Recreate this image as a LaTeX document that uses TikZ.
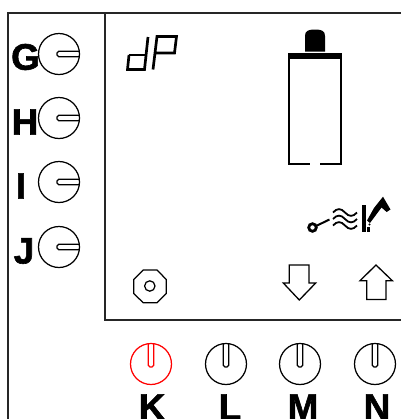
\documentclass[tikz,border=0pt]{standalone}
\usepackage{fontspec}
\setmainfont{Liberation Sans}
\newfontfamily\heavyfont[FakeBold=1.6]{Liberation Sans Bold}
\tikzset{
  frameline/.style={draw=black!85,line width=1.5pt,line cap=square},
  knob/.style={draw,line width=1.25pt},
  lbl/.style={font=\fontsize{37}{37}\selectfont\heavyfont,inner sep=0pt,anchor=center},
  seg/.style={draw,line width=2.7pt,line join=miter},
  arrowkey/.style={draw,line width=1.3pt,line join=miter},
}
\newcommand{\hknob}[2]{%
  \draw[knob] (#1,#2) circle (20.5);
  \draw[knob,rounded corners=1.8] (#1+20.5,#2-2.7) -- (#1-2,#2-2.7) -- (#1-2,#2+2.7) -- (#1+20.5,#2+2.7);
}
\newcommand{\vknob}[3]{%
  \draw[knob,#3] (#1,#2) circle (20.5);
  \draw[knob,#3,rounded corners=1.8] (#1-2.7,#2-20.5) -- (#1-2.7,#2+3) -- (#1+2.7,#2+3) -- (#1+2.7,#2-20.5);
}
\begin{document}
\begin{tikzpicture}[x=1bp,y=-1bp]
\useasboundingbox (0,0) rectangle (401,419);
% frame
\coordinate (tl) at (8,13); \coordinate (tr) at (401,13); \coordinate (bl) at (8,419);
\coordinate (itl) at (105,13); \coordinate (ibl) at (105,320); \coordinate (ibr) at (401,320);
\draw[frameline] (bl) -- (tl) -- (tr);
\draw[frameline] (itl) -- (ibl) -- (ibr);
% left knobs
\hknob{59}{54}
\hknob{59}{118}
\hknob{59}{182}
\hknob{59}{247}
\node[lbl] (G) at (25.5,57) {G};
\node[lbl] (H) at (25,122) {H};
\node[lbl] (I) at (21,186) {I};
\node[lbl] (J) at (24,251) {J};
% bottom knobs
\vknob{151}{364}{red}
\vknob{226}{364}{black}
\vknob{300}{364}{black}
\vknob{375}{364}{black}
\node[lbl] (K) at (152,407) {K};
\node[lbl] (L) at (230,407) {L};
\node[lbl] (M) at (303,407) {M};
\node[lbl] (N) at (377,407) {N};
% dP
\draw[seg] (129,55) -- (127.5,69.5) -- (144.5,69.5) -- (148,37);
\draw[seg] (129,55) -- (146,55);
\draw[seg] (153,69.5) -- (157,36.5) -- (176.5,36.5) -- (174.5,53) -- (155,53);
% bottle
\fill (305,51.7) -- (305,36) .. controls (305,31) and (308,29.5) .. (315,29.5) .. controls (322,29.5) and (325,31) .. (325,36) -- (325,51.7) -- cycle;
\fill (288,53) rectangle (342,59);
\draw[line width=1.9pt] (289.3,58) -- (289.3,163.7) -- (310,163.7);
\draw[line width=1.9pt] (340.7,58) -- (340.7,163.7) -- (320,163.7);
% symbols
\draw[line width=2.8pt] (312.5,227.5) circle (3.8);
\draw[line width=2pt] (316,226) -- (329.5,219.5);
\foreach \yy in {0,6.5,13}{
  \draw[line width=1.8pt] (333,212.5+\yy) .. controls (337,208+\yy) and (341,208+\yy) .. (345,212.5+\yy) .. controls (349,217+\yy) and (353,217+\yy) .. (357,212.5+\yy);
}
\fill (361.7,205) rectangle (366,232);
\fill (367,220.5) -- (374,208) -- (383,196.7) -- (390.5,209.5) -- (386.7,212) -- (381.5,207.5) -- (370,223) -- cycle;
\fill (369.5,224.5) circle (1.2);
\fill (366.5,226.5) rectangle (370,231.5);
% key icons
\draw[arrowkey] (289.3,265) -- (309,265) -- (309,283) -- (315.7,283) -- (299.3,300) -- (283.3,283) -- (289.3,283) -- cycle;
\draw[arrowkey] (366.7,299.5) -- (386,299.5) -- (386,280.7) -- (392.3,280.7) -- (376,265) -- (360,280.7) -- (366.7,280.7) -- cycle;
\draw[knob] (143.2,270) -- (157,270) -- (166.3,279.5) -- (166.3,293.5) -- (157,302.7) -- (143.2,302.7) -- (133.7,293.5) -- (133.7,279.5) -- cycle;
\draw[knob] (149.8,286) circle (5.2);
\end{tikzpicture}
\end{document}
